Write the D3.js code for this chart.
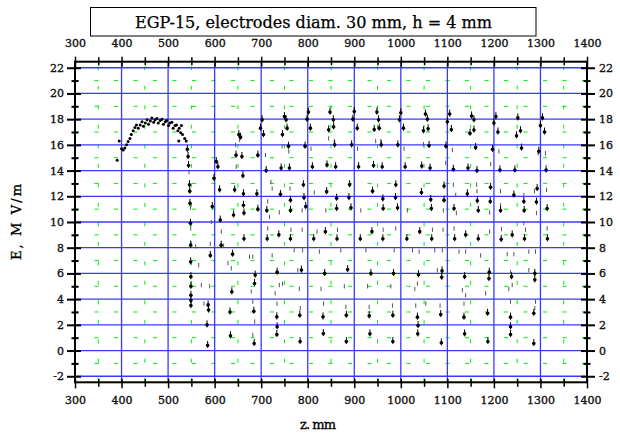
<!DOCTYPE html>
<html><head><meta charset="utf-8">
<script src="https://cdn.jsdelivr.net/npm/d3@7"></script>
<style>body{margin:0;background:#fff}svg{display:block}</style>
</head><body><svg id="c" width="620" height="433"></svg>
<script>
// ---------- data ----------
const titleText = "EGP-15, electrodes diam. 30 mm, h = 4 mm";
const xTitle = "z. mm";
const yTitle = "E, M V/m";
const xMajorTicks = [300,400,500,600,700,800,900,1000,1100,1200,1300,1400];
const xMinorTicks = [350,450,550,650,750,850,950,1050,1150,1250,1350];
const yMajorTicks = [-2,0,2,4,6,8,10,12,14,16,18,20,22];
const yMinorTicks = [-1,1,3,5,7,9,11,13,15,17,19,21];

// smooth part of the scan (z, E)
const curvePoints = [
[390.7,14.8],[395,16.3],[400,15.7],[403.6,15.6],[407,15.75],[410.7,16.0],[414,16.26],[418,16.5],
[421,16.8],[425,17.1],[428.6,17.35],[432,17.55],[436,17.3],[440,17.55],[444,17.8],[447,17.45],
[451,17.7],[455,17.95],[458,17.6],[462,17.85],[465,18.1],[469,17.75],[472,17.95],[476,18.05],
[479,17.7],[483,17.9],[487,18.0],[490,17.6],[494,17.8],[497,17.9],[501,17.5],[504,17.7],
[508,17.75],[511,17.3],[515,17.5],[518,17.55],[521,17.1],[523,16.3],[524,17.3],[527,16.95],
[528.6,17.5],[531,16.8],[535.7,16.5],[539,16.3]
];

// measured points with short bars (z, E)
const dotPoints = [
[541.4,15.65],[543,15.1],[544,14.4],[546,12.9],[546.5,12.4],[547,11.45],[548,9.9],[548.5,8.2],[548.5,6.9],[549,5.75],[549,5.0],[549,4.3],[549,3.9],[549,3.5],
[583.6,2.0],[585,0.4],[586,3.55],[587,3.15],[590.7,7.4],[595,11.2],[598.6,13.4],[603.6,14.7],[607,14.3],[610.7,12.5],[612,10.15],[614,8.2],
[633,3.0],[634,1.15],[637,4.57],[638.6,7.5],[640.7,10.55],[643,12.5],[646,15.2],[652,16.8],[655.7,16.6],[658.6,15.1],[660.7,13.6],[662,12.2],[662,11.3],[663,10.7],[663,8.7],
[684.3,3.06],[685,0.55],[685.7,5.22],[687.1,5.87],[690.7,12.2],[692.9,15.2],[692.9,11.0],[698.6,17.3],[702.1,17.95],[705,16.8],[710.7,14.0],[712.1,10.9],[712.9,8.7],
[733.6,2.62],[734.3,1.85],[733.6,1.25],[734.3,6.1],[737.9,9.0],[741.4,12.15],[742.9,14.2],[745.7,16.8],[750,18.2],[753.6,17.95],[755.7,17.3],[758.6,15.9],[760.7,14.2],[762.9,11.7],[762.9,10.9],[762.9,8.7],
[782.9,2.75],[783.6,0.7],[786.4,6.26],[790.7,12.9],[792,11.9],[794.3,15.9],[795.7,11.2],[798.6,18.0],[801.4,18.55],[805.7,17.3],[810,14.3],[812.9,8.7],
[832.9,2.62],[833.6,1.32],[836.4,6.0],[837.9,9.25],[840.7,12.36],[841.4,14.44],[845,17.17],[847.9,18.55],[855,17.95],[855.7,17.4],[857.9,16.0],[860,14.3],[862.1,11.85],[862.1,11.05],[862.9,8.7],
[882.9,2.75],[882.9,0.7],[885.7,6.3],[888.6,11.9],[890,12.9],[892.9,11.1],[894.3,16.0],[897.1,18.0],[900,18.6],[906.4,17.3],[909.3,14.3],[912.9,8.7],
[932.1,2.7],[933.6,1.3],[935.7,6.0],[937.9,9.25],[939.3,12.4],[941.4,14.4],[942.9,17.2],[948.6,18.55],[952.1,17.95],[953.6,17.3],[957.9,16.0],[960,14.3],[961.4,11.8],[962.1,11.05],[961.4,8.7],
[982.9,2.75],[982.9,0.7],[984.3,6.0],[988.6,11.9],[989.3,12.9],[992.9,11.1],[993.6,16.0],[997.1,17.95],[1000,18.5],[1005.7,17.3],[1009.3,14.3],[1012.9,8.7],
[1035.7,2.6],[1036.4,1.3],[1037.1,1.95],[1037.9,5.9],[1040.7,9.25],[1044.3,12.3],[1045,14.35],[1048.6,17.1],[1052.9,18.4],[1057.1,18.0],[1058.6,17.25],[1060.7,15.95],[1062.9,14.2],[1064.3,11.75],[1065.7,11.05],[1066.4,8.7],
[1085.7,2.8],[1087.1,0.6],[1087.9,5.7],[1088.6,6.2],[1092.9,12.8],[1092.9,11.7],[1097.1,15.9],[1100,17.8],[1105,18.4],[1108.6,17.2],[1112.9,14.1],[1114.3,11.05],[1115.7,8.7],
[1135.7,2.6],[1137.1,1.3],[1137.1,5.75],[1139.3,9.0],[1142.9,12.2],[1144.3,14.2],[1148.6,16.9],[1152.1,18.25],[1157.1,17.95],[1157.1,17.15],[1160.7,15.8],[1163.6,14.0],[1164.3,11.65],[1166.4,10.9],[1166.4,8.7],
[1186.4,2.9],[1187.1,0.7],[1189.3,5.6],[1190,6.1],[1192.1,11.6],[1192.9,12.7],[1197.1,15.65],[1200,17.7],[1204.3,18.2],[1208.6,17.0],[1212.9,14.05],[1214.3,10.9],[1215.7,8.65],
[1235.7,1.25],[1235.7,1.85],[1235.7,2.6],[1237.9,5.75],[1239.3,9.0],[1242.9,12.1],[1245,14.05],[1248.6,16.7],[1251.4,18.1],[1257.1,17.1],[1259.3,15.75],[1264.3,11.6],[1265,10.9],[1265.7,8.7],
[1285.7,0.55],[1285.7,2.9],[1287.9,5.5],[1287.9,6.0],[1291.4,11.55],[1292.9,12.6],[1296.4,15.5],[1300,17.5],[1304.3,18.1],[1308.6,17.0],[1312.1,14.05],[1314.3,11.05],[1315,8.7]
];

// isolated short readings (z, E)
const dashPoints = [
[545,13.9],[547.9,11.1],[548.6,9.5],[559.3,8.1],[565.7,6.65],[571.4,5.1],[577.1,3.65],[589.3,5.0],[590.7,8.3],[592.9,10.0],[614.3,9.25],[619.3,8.15],
[628.6,6.8],[635.7,6.4],[645,16.0],[646.4,14.3],[653.6,16.4],
[675,7.3],[678.6,4.6],[682,7.3],[682,3.8],[686,2.25],[682,1.2],[709.3,15.2],[714,11.6],[718,10.4],[714,9.5],[721,13.1],[723.6,12.6],[723.6,7.4],
[730,4.45],[734,3.65],[739,10.75],[739,5.1],[745,15.9],[746,5.2],[759.3,15.5],[762,12.6],[764,9.4],[771,7.8],[778.6,6.25],[782,4.8],[784,3.3],
[788,10.9],[788,9.4],[789,7.8],[807,15.7],[814,12.3],[820,9.25],[825,7.7],[828.6,4.8],[834,3.65],[839,10.9],[845,16.5],[857,16.3],[864,9.4],
[871,7.8],[878.6,5.0],[882,3.4],[907,15.7],[914,10.9],[925,7.8],[928.6,5.0],[932,3.4],[946,16.3],[957,16.3],[962,9.4],[978.6,5.0],[982,3.5],
[985.7,7.8],[989,9.5],[1007,15.7],[1014,10.9],[1025,7.8],[1030,4.8],[1032.1,3.5],[1035.7,5.2],[1039.3,7.7],[1048.6,16.05],[1053.6,3.65],
[1067.9,9.4],[1072.9,7.8],[1078.6,6.25],[1084.3,3.5],[1089.3,7.8],[1090.7,9.4],[1091.4,10.9],[1096.4,14.6],[1110.7,15.6],[1112.9,12.9],
[1114.3,9.5],[1117.9,12.1],[1119.3,10.7],[1125,7.7],[1132.1,4.7],[1135.7,3.65],[1139.3,4.3],[1139.3,7.7],[1162.9,12.9],[1163.6,12.4],
[1171.4,7.4],[1182.1,4.45],[1190.7,10.75],[1190.7,9.25],[1192.9,14.5],[1210.7,15.5],[1214.3,12.4],[1214.3,11.3],[1216.4,9.45],[1228.6,7.5],
[1232.1,4.8],[1235.7,6.1],[1235.7,3.8],[1239.3,5.1],[1242.9,7.5],[1264.3,12.1],[1264.3,9.9],[1267.9,9.4],[1275,7.7],[1275,6.25],[1287.1,12.4],
[1287.9,3.3],[1289.3,3.8],[1289.3,7.7],[1291.4,10.7],[1295,15.35],[1310.7,15.35],[1312.9,12.5],[1314.3,9.5]
];

// ---------- drawing ----------
const svg = d3.select("#c");
const L = 75, R = 587, T = 61.7, B = 382.3;
const x = d3.scaleLinear().domain([300,1400]).range([L,R]);
const y = d3.scaleLinear().domain([-2.47,22.47]).range([B,T]);
const serif = "DejaVu Serif";

svg.append("rect").attr("width",620).attr("height",433).attr("fill","#fff");

// title box
svg.append("rect").attr("x",90.5).attr("y",7.5).attr("width",445.5).attr("height",28.5)
  .attr("fill","#fff").attr("stroke","#000").attr("stroke-width",1);
svg.append("text").attr("x",313.5).attr("y",28).attr("text-anchor","middle")
  .attr("font-family",serif).attr("font-size",16).attr("textLength",357).attr("lengthAdjust","spacingAndGlyphs")
  .attr("stroke","#000").attr("stroke-width",0.25)
  .text(titleText);

// minor grid (green dashed)
const g = svg.append("g");
g.selectAll(".gmx").data(xMinorTicks).join("line")
  .attr("x1",d=>x(d)).attr("x2",d=>x(d)).attr("y1",B).attr("y2",T)
  .attr("stroke","#00ee00").attr("stroke-width",1).attr("stroke-dasharray","4,15.5");
g.selectAll(".gmy").data(yMinorTicks).join("line")
  .attr("x1",L).attr("x2",R).attr("y1",d=>y(d)).attr("y2",d=>y(d))
  .attr("stroke","#00ee00").attr("stroke-width",1).attr("stroke-dasharray","4,15.5");
// major grid (blue)
g.selectAll(".gMx").data(xMajorTicks.filter(d=>d>300&&d<1400)).join("line")
  .attr("x1",d=>x(d)).attr("x2",d=>x(d)).attr("y1",B).attr("y2",T)
  .attr("stroke","#3a3aff").attr("stroke-width",1.3);
g.selectAll(".gMy").data(yMajorTicks).join("line")
  .attr("x1",L).attr("x2",R).attr("y1",d=>y(d)).attr("y2",d=>y(d))
  .attr("stroke","#3a3aff").attr("stroke-width",1.3);

// data
const dg = svg.append("g");
dg.selectAll(".dash").data(dashPoints).join("line")
  .attr("x1",d=>x(d[0])).attr("x2",d=>x(d[0]))
  .attr("y1",d=>y(d[1]+0.17)).attr("y2",d=>y(d[1]-0.17))
  .attr("stroke","#555").attr("stroke-width",1);
dg.selectAll(".bar").data(dotPoints).join("line")
  .attr("x1",d=>x(d[0])).attr("x2",d=>x(d[0]))
  .attr("y1",d=>y(d[1]+0.35)).attr("y2",d=>y(d[1]-0.2))
  .attr("stroke","#000").attr("stroke-width",1);
dg.selectAll(".dot").data(dotPoints).join("circle")
  .attr("cx",d=>x(d[0])).attr("cy",d=>y(d[1])).attr("r",1.8).attr("fill","#000");
dg.selectAll(".cdot").data(curvePoints).join("circle")
  .attr("cx",d=>x(d[0])).attr("cy",d=>y(d[1])).attr("r",1.5).attr("fill","#000");

// frame
svg.append("rect").attr("x",L).attr("y",T).attr("width",R-L).attr("height",B-T)
  .attr("fill","none").attr("stroke","#000").attr("stroke-width",2);

const fmt = d=>String(d);
function styleAxis(sel){
  sel.select(".domain").remove();
  sel.attr("font-family",serif).attr("font-size",11);
  sel.selectAll("text").attr("fill","#111").attr("stroke","#111").attr("stroke-width",0.35);
}
// left
const aL = svg.append("g").attr("transform",`translate(${L},0)`)
  .call(d3.axisLeft(y).tickValues(yMajorTicks).tickSize(8).tickPadding(3).tickFormat(fmt));
styleAxis(aL); aL.selectAll(".tick line").attr("x1",6).attr("stroke-width",2);
const aLm = svg.append("g").attr("transform",`translate(${L},0)`)
  .call(d3.axisLeft(y).tickValues(yMinorTicks).tickSize(3.5).tickFormat(""));
styleAxis(aLm); aLm.selectAll(".tick line").attr("x1",3.5).attr("stroke-width",2);
// right
const aR = svg.append("g").attr("transform",`translate(${R},0)`)
  .call(d3.axisRight(y).tickValues(yMajorTicks).tickSize(8).tickPadding(4).tickFormat(fmt));
styleAxis(aR); aR.selectAll(".tick line").attr("x1",-6).attr("stroke-width",2);
const aRm = svg.append("g").attr("transform",`translate(${R},0)`)
  .call(d3.axisRight(y).tickValues(yMinorTicks).tickSize(3.5).tickFormat(""));
styleAxis(aRm); aRm.selectAll(".tick line").attr("x1",-3.5).attr("stroke-width",2);
// top
const aT = svg.append("g").attr("transform",`translate(0,${T})`)
  .call(d3.axisTop(x).tickValues(xMajorTicks).tickSize(5).tickPadding(9.5).tickFormat(fmt));
styleAxis(aT); aT.selectAll(".tick line").attr("y1",5).attr("stroke-width",1.5);
const aTm = svg.append("g").attr("transform",`translate(0,${T})`)
  .call(d3.axisTop(x).tickValues(xMinorTicks).tickSize(4.5).tickFormat(""));
styleAxis(aTm); aTm.selectAll(".tick line").attr("y1",3.5).attr("stroke-width",1.5);
// bottom
const aB = svg.append("g").attr("transform",`translate(0,${B})`)
  .call(d3.axisBottom(x).tickValues(xMajorTicks).tickSize(6).tickPadding(7.4).tickFormat(fmt));
styleAxis(aB); aB.selectAll(".tick line").attr("y1",-3.5).attr("stroke-width",1.5);
const aBm = svg.append("g").attr("transform",`translate(0,${B})`)
  .call(d3.axisBottom(x).tickValues(xMinorTicks).tickSize(4.5).tickFormat(""));
styleAxis(aBm); aBm.selectAll(".tick line").attr("y1",-3.5).attr("stroke-width",1.5);

// axis titles
svg.append("text").attr("x",318).attr("y",429).attr("text-anchor","middle")
  .attr("font-family",serif).attr("font-size",13).attr("textLength",36)
  .attr("stroke","#000").attr("stroke-width",0.35).text(xTitle);
svg.append("text").attr("transform","translate(21,222) rotate(-90)").attr("text-anchor","middle")
  .attr("font-family",serif).attr("font-size",13).attr("textLength",76)
  .attr("stroke","#000").attr("stroke-width",0.35).text(yTitle);
</script></body></html>
